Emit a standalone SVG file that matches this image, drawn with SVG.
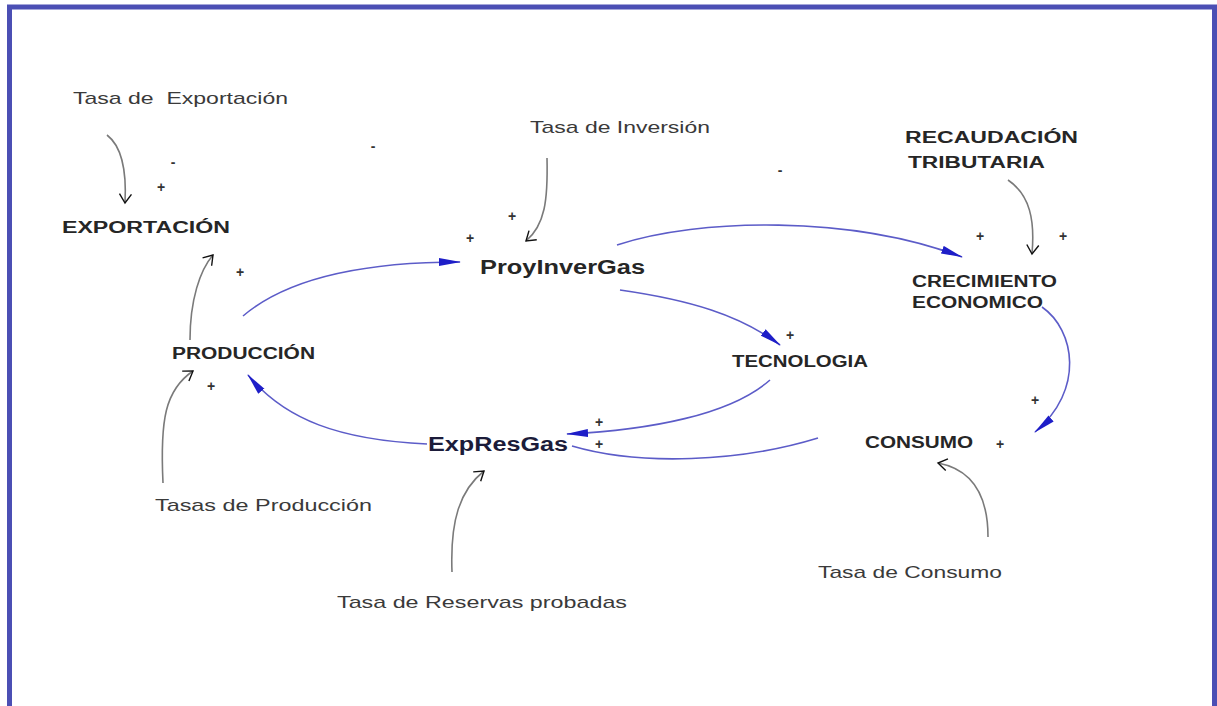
<svg xmlns="http://www.w3.org/2000/svg" width="1217" height="706" viewBox="0 0 1217 706">
<style>
.lbl{font-family:"Liberation Sans",Arial,sans-serif;font-size:17px;fill:#3a3a3a;white-space:pre}
.node{font-family:"Liberation Sans",Arial,sans-serif;font-weight:bold;font-size:16px;fill:#262626}
.big{font-size:20px}
.sign{font-family:"Liberation Sans",Arial,sans-serif;font-size:14px;font-weight:bold;fill:#333;text-anchor:middle}
.blue{fill:none;stroke:#5c5cc8;stroke-width:1.6}
.gray{fill:none;stroke:#7a7a7a;stroke-width:1.6}
</style>
<defs>
<marker id="blueHead" viewBox="0 0 22 9" refX="21" refY="4.5" markerWidth="22" markerHeight="9" markerUnits="userSpaceOnUse" orient="auto">
<path d="M0,0.5 L22,4.5 L0,8.5 z" fill="#1e1ec8"/>
</marker>
<marker id="openHead" viewBox="0 0 14 14" refX="12" refY="7" markerWidth="14" markerHeight="14" markerUnits="userSpaceOnUse" orient="auto">
<path d="M3,1 L12,7 L3,13" fill="none" stroke="#111" stroke-width="1.4"/>
</marker>
</defs>
<rect x="0" y="0" width="1217" height="706" fill="#ffffff"/>
<g id="frame" fill="none" stroke="#4b4fb4" stroke-width="5">
<path d="M9.5,710 L9.5,7 L1214.5,7 L1214.5,710"/>
</g>
<g id="connectors">
<path class="gray" d="M107,135 C120,145 127,165 125,203" marker-end="url(#openHead)"/>
<path class="gray" d="M190,340 C190,300 200,270 213,255" marker-end="url(#openHead)"/>
<path class="gray" d="M163,483 C160,420 165,390 193,371" marker-end="url(#openHead)"/>
<path class="gray" d="M547,158 C548,200 545,225 526,241" marker-end="url(#openHead)"/>
<path class="gray" d="M1008,180 C1030,195 1035,220 1032,254" marker-end="url(#openHead)"/>
<path class="gray" d="M988,537 C988,500 975,470 938,463" marker-end="url(#openHead)"/>
<path class="gray" d="M452,572 C450,520 460,490 484,471" marker-end="url(#openHead)"/>
<path class="blue" d="M243,316 C290,276 370,262 460,262" marker-end="url(#blueHead)"/>
<path class="blue" d="M617,245 C700,218 850,215 962,257" marker-end="url(#blueHead)"/>
<path class="blue" d="M620,290 C690,300 740,315 780,345" marker-end="url(#blueHead)"/>
<path class="blue" d="M770,380 C730,415 650,430 567,434" marker-end="url(#blueHead)"/>
<path class="blue" d="M572,446 C640,466 740,462 818,438"/>
<path class="blue" d="M427,444 C340,440 285,420 248,375" marker-end="url(#blueHead)"/>
<path class="blue" d="M1042,307 C1075,330 1085,390 1035,432" marker-end="url(#blueHead)"/>
</g>
<g id="signs">
<text class="sign" x="173" y="167">-</text>
<text class="sign" x="161" y="192">+</text>
<text class="sign" x="373" y="151">-</text>
<text class="sign" x="240" y="277">+</text>
<text class="sign" x="512" y="221">+</text>
<text class="sign" x="470" y="243">+</text>
<text class="sign" x="780" y="175">-</text>
<text class="sign" x="980" y="241">+</text>
<text class="sign" x="1063" y="241">+</text>
<text class="sign" x="790" y="340">+</text>
<text class="sign" x="599" y="427">+</text>
<text class="sign" x="599" y="449">+</text>
<text class="sign" x="211" y="391">+</text>
<text class="sign" x="1035" y="405">+</text>
<text class="sign" x="1000" y="449">+</text>
</g>
<g id="tasa-exportacion"><text class="lbl" xml:space="preserve" x="73" y="104" textLength="215" lengthAdjust="spacingAndGlyphs">Tasa de  Exportación</text></g>
<g id="exportacion"><text class="node" x="62" y="233" textLength="168" lengthAdjust="spacingAndGlyphs">EXPORTACIÓN</text></g>
<g id="tasa-inversion"><text class="lbl" x="530" y="133" textLength="180" lengthAdjust="spacingAndGlyphs">Tasa de Inversión</text></g>
<g id="proyinvergas"><text class="node big" x="480" y="274" textLength="165" lengthAdjust="spacingAndGlyphs">ProyInverGas</text></g>
<g id="recaudacion"><text class="node" x="905" y="143" textLength="173" lengthAdjust="spacingAndGlyphs">RECAUDACIÓN</text><text class="node" x="908" y="168" textLength="137" lengthAdjust="spacingAndGlyphs">TRIBUTARIA</text></g>
<g id="crecimiento"><text class="node" x="912" y="287" textLength="145" lengthAdjust="spacingAndGlyphs">CRECIMIENTO</text><text class="node" x="912" y="308" textLength="131" lengthAdjust="spacingAndGlyphs">ECONOMICO</text></g>
<g id="produccion"><text class="node" x="172" y="359" textLength="143" lengthAdjust="spacingAndGlyphs">PRODUCCIÓN</text></g>
<g id="tecnologia"><text class="node" x="732" y="367" textLength="136" lengthAdjust="spacingAndGlyphs">TECNOLOGIA</text></g>
<g id="expresgas"><text class="node big" x="428" y="451" textLength="140" lengthAdjust="spacingAndGlyphs" style="fill:#1c1c3a">ExpResGas</text></g>
<g id="consumo"><text class="node" x="865" y="448" textLength="108" lengthAdjust="spacingAndGlyphs">CONSUMO</text></g>
<g id="tasas-produccion"><text class="lbl" x="155" y="511" textLength="217" lengthAdjust="spacingAndGlyphs">Tasas de Producción</text></g>
<g id="tasa-consumo"><text class="lbl" x="818" y="578" textLength="184" lengthAdjust="spacingAndGlyphs">Tasa de Consumo</text></g>
<g id="tasa-reservas"><text class="lbl" x="337" y="608" textLength="290" lengthAdjust="spacingAndGlyphs">Tasa de Reservas probadas</text></g>
</svg>
